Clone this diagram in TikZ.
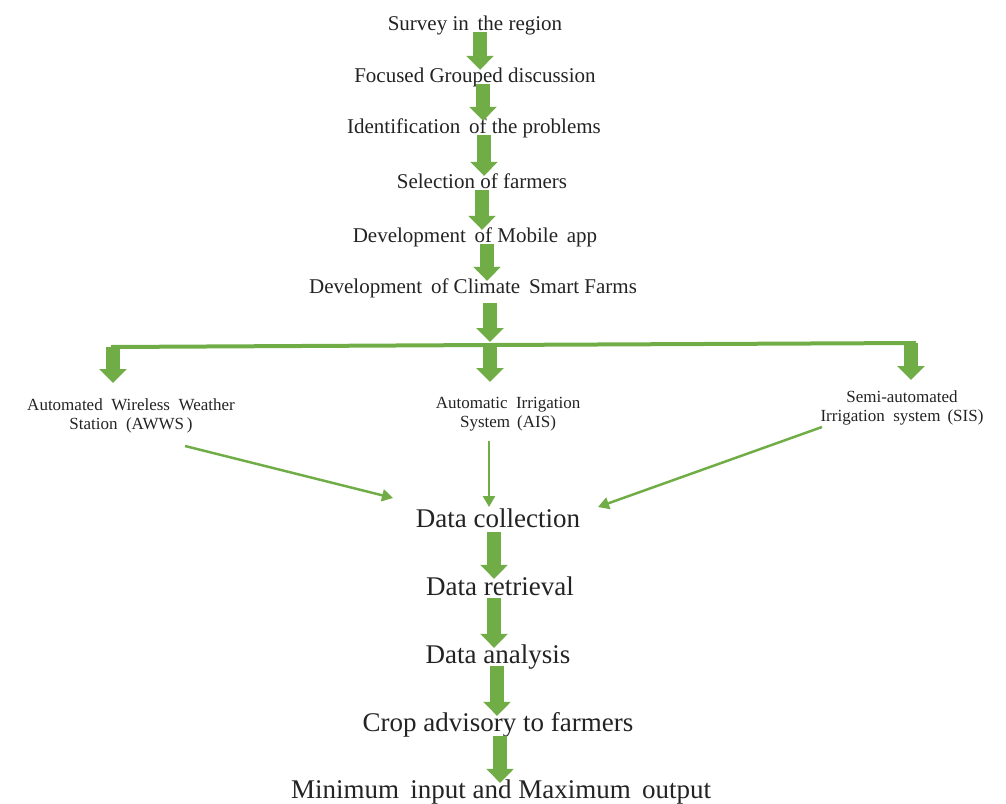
\documentclass[tikz,border=0pt]{standalone}
\usepackage{fontspec}
\setmainfont{Liberation Serif}
\usetikzlibrary{arrows.meta,calc}
\definecolor{gr}{RGB}{112,173,71}
\definecolor{ink}{RGB}{35,35,35}
\begin{document}
\begin{tikzpicture}[x=1pt,y=-1pt,
  toptxt/.style={inner sep=0pt,anchor=base,text=ink,font=\fontsize{21}{25}\selectfont,text height=15pt,text depth=2pt},
  bigtxt/.style={inner sep=0pt,anchor=base,text=ink,font=\fontsize{27}{32}\selectfont,text height=18pt,text depth=3pt},
  smalltxt/.style={inner sep=0pt,anchor=north,text=ink,align=center,font=\fontsize{17}{19}\selectfont},
  blk/.style={draw=gr,line width=14pt,-{Triangle[width=27pt,length=14pt]}},
  feed/.style={draw=gr,line width=2.5pt,-{Triangle[width=12pt,length=11pt]}},
  hline/.style={draw=gr,line width=4pt}]
\useasboundingbox (0,0) rectangle (1006,803);

% main chain, top
\node[toptxt] (s1) at (475,30) {Survey in \,the region};
\node[toptxt] (s2) at (475,82) {Focused Grouped discussion};
\node[toptxt] (s3) at (474,133) {Identification \,of the problems};
\node[toptxt] (s4) at (482,188) {Selection of farmers};
\node[toptxt] (s5) at (475,242) {Development \,of Mobile \,app};
\node[toptxt] (s6) at (473,293) {Development \,of Climate \,Smart Farms};

% branch texts
\node[smalltxt] (awws) at (131,398) {Automated \ Wireless \ Weather\\Station \ (AWWS\,)};
\node[smalltxt] (ais) at (508,397) {Automatic \ Irrigation\\System \,(AIS)};
\node[smalltxt] (sis) at (902,390) {Semi-automated\\Irrigation \ system \,(SIS)};

% main chain, bottom
\node[bigtxt] (d1) at (498,527) {Data collection};
\node[bigtxt] (d2) at (500,595) {Data retrieval};
\node[bigtxt] (d3) at (498,663) {Data analysis};
\node[bigtxt] (d4) at (498,731) {Crop advisory to farmers};
\node[bigtxt] (d5) at (501,798) {Minimum \,input and Maximum \,output};

% arrow axes
\coordinate (a1) at (480,0);
\coordinate (a2) at (483,0);
\coordinate (a3) at (484,0);
\coordinate (a4) at (482,0);
\coordinate (a5) at (487,0);
\coordinate (b1) at (494,0);
\coordinate (b2) at (494,0);
\coordinate (b3) at (497,0);
\coordinate (b4) at (500,0);

% distribution bar
\coordinate (hl) at (113,347);
\coordinate (hm) at (490,345);
\coordinate (hr) at (911,343);

% feed arrow ends
\coordinate (fa) at (185,446);
\coordinate (fae) at (393,498);
\coordinate (fb) at (489,441);
\coordinate (fbe) at (489,507);
\coordinate (fc) at (822,427);
\coordinate (fce) at (598,507);

\draw[blk] (s1.south -| a1) -- ([yshift=-3pt]s2.north -| a1);
\draw[blk] (s2.south -| a2) -- ([yshift=-3pt]s3.north -| a2);
\draw[blk] (s3.south -| a3) -- ([yshift=-3pt]s4.north -| a3);
\draw[blk] (s4.south -| a4) -- ([yshift=-3pt]s5.north -| a4);
\draw[blk] (s5.south -| a5) -- ([yshift=-3pt]s6.north -| a5);
\draw[blk] ([yshift=-8pt]s6.south -| hm) -- ([yshift=3pt]hm);

\draw[hline] ([xshift=-2pt]hl) -- (hm) -- ([xshift=5pt]hr);
\draw[blk] (hl) -- ([yshift=15pt]awws.north -| hl);
\draw[blk] (hm) -- ([yshift=15pt]ais.north -| hm);
\draw[blk] (hr) -- ([yshift=10pt]sis.north -| hr);

\draw[feed] (fa) -- (fae);
\draw[feed] (fb) -- (fbe);
\draw[feed] (fc) -- (fce);

\draw[blk] ([yshift=-2pt]d1.south -| b1) -- ([yshift=-2pt]d2.north -| b1);
\draw[blk] (d2.south -| b2) -- ([yshift=-3pt]d3.north -| b2);
\draw[blk] (d3.south -| b3) -- ([yshift=-3pt]d4.north -| b3);
\draw[blk] ([yshift=-2pt]d4.south -| b4) -- ([yshift=-3pt]d5.north -| b4);
\end{tikzpicture}
\end{document}
